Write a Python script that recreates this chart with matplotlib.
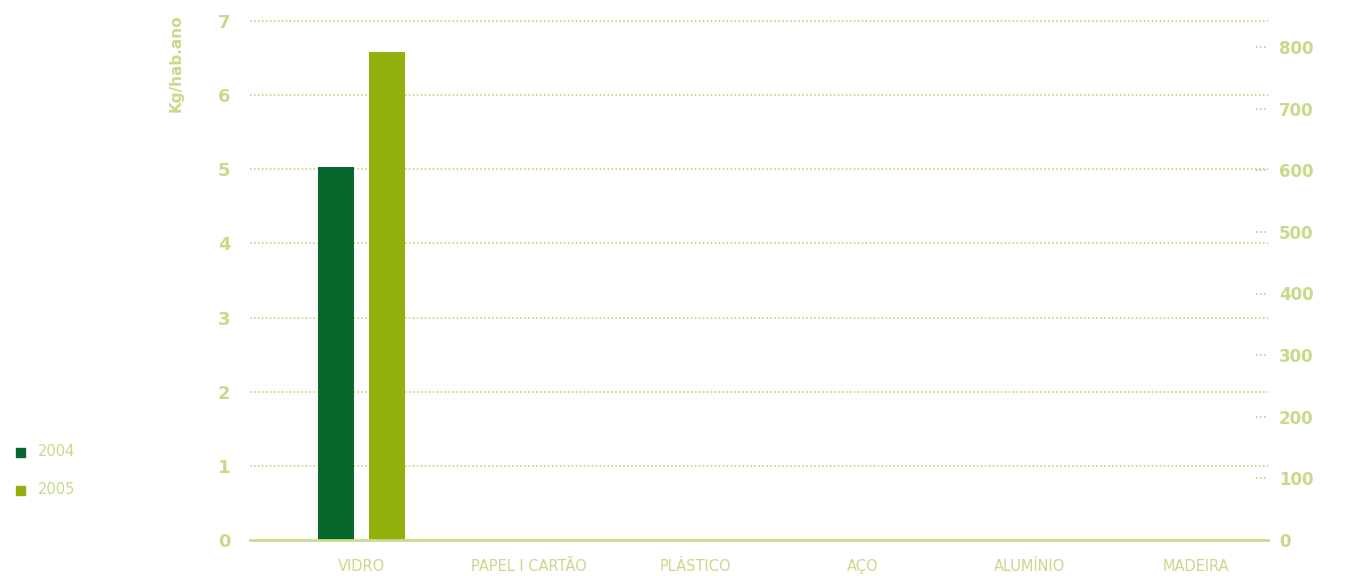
import numpy as np
import matplotlib.pyplot as plt

categorias = ['VIDRO', 'PAPEL I CARTÃO', 'PLÁSTICO', 'AÇO', 'ALUMÍNIO', 'MADEIRA']
v2004 = [5.03, 0, 0, 0, 0, 0]
v2005 = [6.58, 0, 0, 0, 0, 0]
anos = ['2004', '2005']
ticks_esq = [0, 1, 2, 3, 4, 5, 6, 7]
ticks_dir = [0, 100, 200, 300, 400, 500, 600, 700, 800]

c2004 = '#08672A'
c2005 = '#92B10C'
ctxt = '#C5DB8A'

fig = plt.figure(figsize=(13.6, 5.76), dpi=100)
ax = fig.add_axes([250 / 1360, 36 / 576, 1018 / 1360, 519 / 576])

x = np.arange(len(categorias))
w = 0.216
ax.bar(x - 0.153, v2004, w, color=c2004, zorder=3)
ax.bar(x + 0.153, v2005, w, color=c2005, zorder=3)

ax.set_xlim(-0.67, 5.43)
ax.set_ylim(0, 7)

# linhas de grelha pontilhadas
for t in ticks_esq[1:]:
    ax.axhline(t, color='#B5CF6E', lw=1.1, ls=(0, (1, 1.6)), zorder=1, clip_on=False)
ax.axhline(0, color='#C8DC8C', lw=2, zorder=4, clip_on=False)

for s in ax.spines.values():
    s.set_visible(False)

ax.set_yticks(ticks_esq)
ax.set_yticklabels([str(t) for t in ticks_esq], color=ctxt, fontsize=13,
                   fontweight='bold', family='DejaVu Sans')
ax.tick_params(axis='y', length=0, pad=14)
ax.set_xticks(x)
ax.set_xticklabels(categorias, color=ctxt, fontsize=10.5, family='DejaVu Sans')
ax.tick_params(axis='x', length=0, pad=14)

ax2 = ax.twinx()
ax2.set_ylim(0, 800 * 519 / 493)
for s in ax2.spines.values():
    s.set_visible(False)
ax2.set_yticks(ticks_dir)
ax2.set_yticklabels([str(t) for t in ticks_dir], color=ctxt, fontsize=12,
                    fontweight='bold', family='DejaVu Sans')
ax2.tick_params(axis='y', length=0, pad=8)
for t in ticks_dir[1:]:
    ax2.plot([5.36, 5.43], [t, t], color='#B5CF6E', lw=1.1, ls=(0, (1, 1.6)),
             clip_on=False)

fig.text(176 / 1360, 1 - 15 / 576, 'Kg/hab.ano', rotation=90, ha='center', va='top',
         color=ctxt, fontsize=11, fontweight='bold', family='DejaVu Sans')

# legenda manual
for i, (ano, cor) in enumerate(zip(anos, [c2004, c2005])):
    yy = 1 - (452 + 38 * i) / 576
    fig.patches.append(plt.Rectangle((16 / 1360, yy - 4.5 / 576), 9 / 1360, 9 / 576,
                                     transform=fig.transFigure, color=cor))
    fig.text(38 / 1360, yy, ano, va='center', ha='left', color=ctxt, fontsize=10.5,
             family='DejaVu Sans')

fig.savefig('out.png', dpi=100)
